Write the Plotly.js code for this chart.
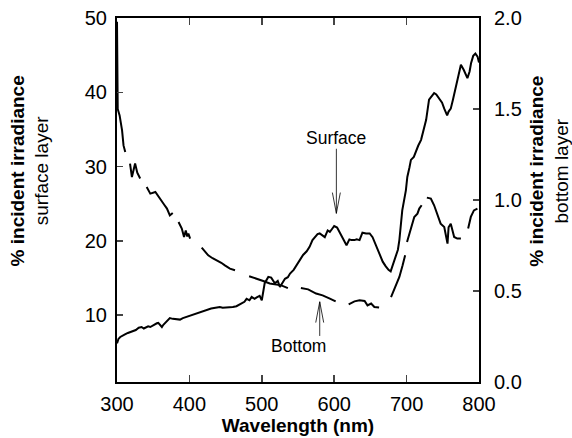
<!DOCTYPE html>
<html>
<head>
<meta charset="utf-8">
<script src="https://cdn.plot.ly/plotly-3.0.1.min.js"></script>
<style>html,body{margin:0;padding:0;background:#fff;}#chart{width:572px;height:438px;}</style>
</head>
<body>
<div id="chart"></div>
<script>
// Surface layer irradiance (% incident), left axis
var surfaceWavelength = [300,302,304.5,308,311,315,318,322,326,330,334,337,340,343,346,349,352,355,357,360,362,364,367,370,373,377,380,384,387,391,394,398,401,405,410,414,419,424,430,436,442,446,450,455,460,465,469,472,476,479,483,486,490,493,497,500,504,509,513,518,522,525,529,532,536,539,544,548,553,557,562,566,570,573,577,580,584,587,591,594,597,600,604,607,611,614,617,621,624,628,631,635,639,644,649,653,656,660,664,667,671,675,678,681,685,688,690,694,699,701,704,706,710,713,716,720,724,727,731,735,738,741,745,749,752,756,758,761,764,768,772,775,779,784,787,789,792,795,798,800];
var surfaceValues = [6.2,6.8,7.06,7.3,7.4,7.6,7.7,7.9,8.0,8.3,8.4,8.2,8.3,8.5,8.4,8.6,8.7,8.9,8.95,8.6,8.4,8.7,9.0,9.3,9.6,9.5,9.5,9.4,9.4,9.6,9.7,9.8,10.0,10.1,10.3,10.4,10.6,10.7,10.9,11.0,11.1,11.0,11.0,11.1,11.1,11.2,11.4,11.6,11.8,12.2,12.0,12.45,12.2,12.4,12.6,12.0,14.3,15.15,15.05,14.3,14.6,13.8,14.4,14.9,15.1,15.6,16.1,16.7,17.5,18.1,18.6,19.2,20.1,20.5,20.9,21.0,20.7,20.5,21.4,21.2,21.6,22.0,21.8,21.2,20.6,19.9,19.4,20.2,20.1,20.1,20.2,20.1,21.1,21.0,21.0,20.5,19.8,18.7,17.9,17.2,16.6,16.1,15.9,16.7,17.8,18.8,20.1,24.1,26.8,28.6,29.9,30.9,31.3,32.2,32.8,33.6,35.0,36.3,39.0,39.6,39.9,39.7,39.2,38.6,37.8,36.9,37.4,37.8,39.0,40.7,42.4,43.7,43.0,41.9,42.8,43.9,44.9,45.2,44.8,44.0];

// Bottom layer irradiance (% incident), right axis; null = gap in the record
var bottomWavelength = [300,300.4,301,303.6,307,309,311.4,314,318,320.6,325,328,332,336,341,346,353,360,365,369,373,377,381,385,389.5,392.6,395,397,398.6,401,409,417,426,432,438,444,449,456,463,472,482.5,493,502,511,520,527,536,545,554,564,575,584,594,602,611,620,628,635,642,646,651,655.5,662,670,678.5,683,690,694.5,698,699.5,700.6,706,710.6,715,717.5,720.8,724,728,733.5,738,742.7,747,752,756.5,758,761,765.7,770,775,780,785,788.7,793,797.8];
var bottomValues = [1.98,1.58,1.50,1.465,1.383,1.30,1.264,null,1.20,1.126,1.20,1.15,1.118,null,1.071,1.035,1.044,1.000,0.975,0.953,0.916,0.929,null,0.879,0.843,0.797,0.833,0.80,0.815,0.788,null,0.738,0.696,0.68,0.669,0.655,0.641,0.623,0.614,null,0.581,0.568,0.555,0.541,0.537,0.531,0.516,null,0.516,0.509,0.486,0.476,0.458,0.443,null,0.427,0.443,0.449,0.445,0.421,0.431,0.412,0.409,null,0.467,0.513,0.577,0.641,0.696,null,0.769,0.852,0.907,0.925,0.953,0.971,null,1.013,1.008,0.971,0.916,0.870,0.852,0.760,0.85,0.870,0.797,0.788,0.788,null,0.843,0.907,0.943,0.953];

var xTickVals = [300,400,500,600,700,800];
var leftTickVals = [10,20,30,40,50];
var rightTickVals = [0,0.5,1.0,1.5,2.0];

var fontFam = 'Arial, "Liberation Sans", sans-serif';

var traces = [
  {x: surfaceWavelength, y: surfaceValues, type: 'scatter', mode: 'lines', yaxis: 'y',
   line: {color: '#000', width: 2}, hoverinfo: 'skip', name: 'Surface'},
  {x: bottomWavelength, y: bottomValues, type: 'scatter', mode: 'lines', yaxis: 'y2',
   connectgaps: false, line: {color: '#000', width: 2}, hoverinfo: 'skip', name: 'Bottom'}
];

var layout = {
  width: 572, height: 438,
  margin: {l: 117, r: 93, t: 18, b: 56},
  paper_bgcolor: '#fff', plot_bgcolor: '#fff',
  showlegend: false,
  font: {family: fontFam, color: '#000'},
  xaxis: {
    range: [300, 800], tickvals: xTickVals, ticks: 'inside', ticklen: 7, tickwidth: 1.5,
    showline: true, linewidth: 2, linecolor: '#000', mirror: 'ticks',
    showgrid: false, zeroline: false, tickfont: {size: 20, family: fontFam}, ticklabelstandoff: 3,
    title: {text: '<b>Wavelength (nm)</b>', font: {size: 19, family: fontFam}, standoff: 3}
  },
  yaxis: {
    range: [1, 50], tickvals: leftTickVals, ticks: 'inside', ticklen: 6, tickwidth: 1.5,
    showline: true, linewidth: 2, linecolor: '#000', showgrid: false, zeroline: false,
    tickfont: {size: 20, family: fontFam}, ticklabelstandoff: 4
  },
  yaxis2: {
    overlaying: 'y', side: 'right', range: [0, 2], tickvals: rightTickVals, tickformat: '.1f',
    ticks: 'inside', ticklen: 6, tickwidth: 1.5,
    showline: true, linewidth: 2, linecolor: '#000', showgrid: false, zeroline: false,
    tickfont: {size: 20, family: fontFam}, ticklabelstandoff: 9
  },
  annotations: [
    {xref: 'paper', yref: 'paper', x: -0.2417, y: 0.58, textangle: -90, showarrow: false,
     xanchor: 'center', yanchor: 'middle',
     text: '<b>% incident irradiance</b><br>surface layer', font: {size: 19, family: fontFam}},
    {xref: 'paper', yref: 'paper', x: 1.193, y: 0.58, textangle: -90, showarrow: false,
     xanchor: 'center', yanchor: 'middle',
     text: '<b>% incident irradiance</b><br>bottom layer', font: {size: 19, family: fontFam}},
    {x: 603, y: 33.9, xref: 'x', yref: 'y', text: 'Surface', showarrow: false,
     font: {size: 17.5, family: fontFam}},
    {x: 551, y: 5.9, xref: 'x', yref: 'y', text: 'Bottom', showarrow: false,
     font: {size: 17.5, family: fontFam}}
  ],
  shapes: [
    {type: 'line', xref: 'x', yref: 'y', x0: 603, x1: 603, y0: 32.4, y1: 23.7, line: {color: '#000', width: 0.8}},
    {type: 'path', xref: 'x', yref: 'y', path: 'M 597.5 26.5 L 603 23.7 L 608.5 26.5', line: {color: '#000', width: 0.8}},
    {type: 'line', xref: 'x', yref: 'y', x0: 580, x1: 580, y0: 7.2, y1: 11.8, line: {color: '#000', width: 0.8}},
    {type: 'path', xref: 'x', yref: 'y', path: 'M 574.5 9.0 L 580 11.8 L 585.5 9.0', line: {color: '#000', width: 0.8}}
  ]
};

Plotly.newPlot('chart', traces, layout, {staticPlot: true, displayModeBar: false});
</script>
</body>
</html>
